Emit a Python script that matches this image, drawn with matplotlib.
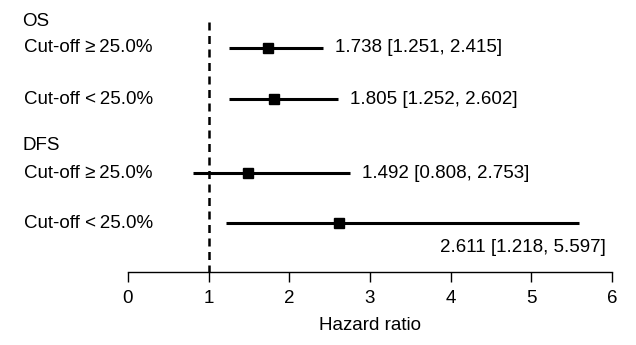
import matplotlib
matplotlib.use("Agg")
import matplotlib.pyplot as plt

plt.rcParams['font.family'] = ['Liberation Sans', 'DejaVu Sans']

groups = ["OS", "DFS"]
labels = ["Cut-off \u2265\u200925.0%", "Cut-off <\u200925.0%", "Cut-off \u2265\u200925.0%", "Cut-off <\u200925.0%"]
hr = [1.738, 1.805, 1.492, 2.611]
lower = [1.251, 1.252, 0.808, 1.218]
upper = [2.415, 2.602, 2.753, 5.597]
xticks = [0, 1, 2, 3, 4, 5, 6]

# layout (pixel-like vertical coordinates, top = 0)
row_y = [48, 99, 173, 223]
group_y = [20, 145]
axis_y = 272

W, H = 636, 345
fig = plt.figure(figsize=(W / 100, H / 100), dpi=100)
ax = fig.add_axes([0, 0, 1, 1])
ppu = (612 - 128) / 6.0
ax.set_xlim(-128 / ppu, (W - 128) / ppu)
ax.set_ylim(H, 0)

for s in ['top', 'right', 'left']:
    ax.spines[s].set_visible(False)
ax.spines['bottom'].set_position(('data', axis_y))
ax.spines['bottom'].set_bounds(0, 6)
ax.spines['bottom'].set_linewidth(1.0)
ax.set_xticks(xticks)
ax.set_xticklabels([str(t) for t in xticks], fontsize=13.5)
ax.tick_params(axis='x', length=7, width=1.0, pad=6)
ax.set_yticks([])
ax.patch.set_alpha(0)

# reference line
ax.plot([1, 1], [22, axis_y], color='black', lw=1.8, linestyle=(0, (3.2, 2.2)))

fs = 13.5
x0 = -128 / ppu
for g, gy in zip(groups, group_y):
    ax.text(x0 + 22 / ppu, gy + 1, g, fontsize=fs, ha='left', va='center')

for i, (lab, y, h, lo, up) in enumerate(zip(labels, row_y, hr, lower, upper)):
    ax.text(x0 + 24 / ppu, y, lab, fontsize=fs, ha='left', va='center')
    ax.plot([lo, up], [y, y], color='black', lw=2.2, solid_capstyle='butt')
    ax.plot([h], [y], marker='s', color='black', markersize=7.5)
    txt = f"{h:.3f} [{lo:.3f}, {up:.3f}]"
    if i < 3:
        ax.text(up + 0.15, y, txt, fontsize=fs, ha='left', va='center')
    else:
        ax.text(6 - 0.08, y + 24, txt, fontsize=fs, ha='right', va='center')

ax.text(3, 326, "Hazard ratio", fontsize=fs, ha='center', va='center')

fig.savefig("out.png", dpi=100)
